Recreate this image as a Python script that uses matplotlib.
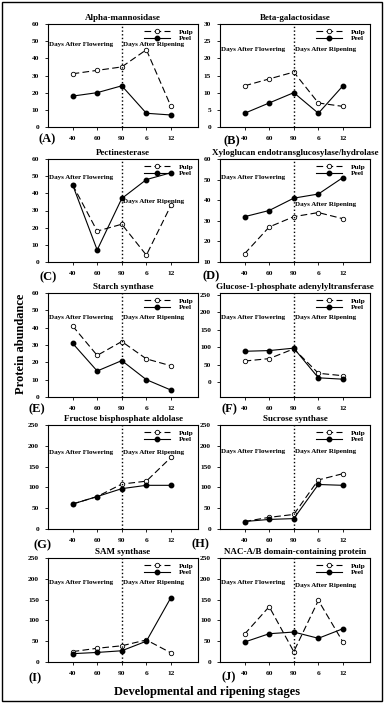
import matplotlib
matplotlib.use("Agg")
from matplotlib import pyplot as plt
from matplotlib.patches import Rectangle

plt.rcParams['font.family'] = ['Liberation Serif', 'DejaVu Serif']
plt.rcParams['font.weight'] = 'bold'

stages = ["40", "60", "90", "6", "12"]

titles = ["Alpha-mannosidase", "Beta-galactosidase", "Pectinesterase",
          "Xyloglucan endotransglucosylase/hydrolase", "Starch synthase",
          "Glucose-1-phosphate adenylyltransferase", "Fructose bisphosphate aldolase",
          "Sucrose synthase", "SAM synthase", "NAC-A/B domain-containing protein"]
letters = ["(A)", "(B)", "(C)", "(D)", "(E)", "(F)", "(G)", "(H)", "(I)", "(J)"]

pulp = [
    [31, 33, 35, 45, 12],
    [12, 14, 16, 7, 6],
    [45, 18, 22, 4, 33],
    [14, 27, 32, 34, 31],
    [41, 24, 32, 22, 18],
    [60, 67, 95, 25, 18],
    [60, 78, 108, 115, 172],
    [18, 28, 35, 118, 133],
    [25, 33, 39, 53, 22],
    [67, 133, 25, 148, 48],
]
peel = [
    [18, 20, 24, 8, 7],
    [4, 7, 10, 4, 12],
    [45, 7, 37, 48, 52],
    [32, 35, 41, 43, 51],
    [31, 15, 21, 10, 4],
    [88, 90, 97, 12, 8],
    [60, 78, 97, 105, 105],
    [18, 23, 25, 107, 105],
    [20, 23, 27, 50, 155],
    [48, 68, 72, 57, 80],
]
ylims = [(0, 60), (0, 30), (0, 60), (10, 60), (0, 60),
         (-43, 255), (0, 250), (0, 250), (0, 250), (0, 250)]
ysteps = [10, 5, 10, 10, 10, 50, 50, 50, 50, 50]

# text heights (axes fraction) for the two period labels
flower_y = [0.78, 0.73, 0.80, 0.80, 0.74, 0.74, 0.71, 0.72, 0.74, 0.74]
ripen_y = [0.78, 0.73, 0.56, 0.53, 0.74, 0.74, 0.71, 0.72, 0.74, 0.71]
letter_x = [47, 232, 48, 211, 37, 229, 42, 200, 35, 229]
letter_y = [139, 141, 277, 276, 409, 409, 545, 544, 678, 677]

W, H = 384, 703
fig = plt.figure(figsize=(W / 100, H / 100), dpi=100)

rows = [(24, 127), (159, 262), (293, 397), (425, 529), (558, 662)]
cols = [(48, 198), (220, 370)]

x = list(range(1, 6))
for i in range(10):
    top, bot = rows[i // 2]
    l, r = cols[i % 2]
    ax = fig.add_axes([l / W, 1 - bot / H, (r - l) / W, (bot - top) / H])
    ax.plot(x, pulp[i], color='black', linestyle=(0, (6, 3)), lw=0.8, marker='o',
            markersize=3.2, markerfacecolor='white', markeredgewidth=0.6, label='Pulp')
    ax.plot(x, peel[i], color='black', linestyle='-', lw=0.8, marker='o',
            markersize=3.2, markerfacecolor='black', label='Peel')
    ax.axvline(3, color='black', linestyle=':', lw=1)
    ax.set_xlim(0, 6.1)
    y0, y1 = ylims[i]
    ax.set_ylim(y0, y1)
    start = 0 if y0 < 0 else y0
    ax.set_yticks(range(start, y1 + 1 if y1 % ysteps[i] == 0 else y1, ysteps[i]))
    ax.set_xticks(x)
    ax.set_xticklabels(stages)
    ax.tick_params(labelsize=5.3, length=2, width=0.6, pad=4.5)
    for s in ax.spines.values():
        s.set_linewidth(0.8)
    ax.set_title(titles[i], fontsize=6.5, fontweight='bold', pad=3)
    ax.text(0.005, flower_y[i], "Days After Flowering", transform=ax.transAxes,
            fontsize=5, fontweight='bold', ha='left', va='bottom')
    ax.text(3.05, ripen_y[i], "Days After Ripening",
            transform=ax.get_xaxis_transform(), fontsize=5, fontweight='bold',
            ha='left', va='bottom')
    ax.legend(loc='upper right', fontsize=5.3, frameon=False, handlelength=3.5,
              handletextpad=1.2, labelspacing=0.05, borderaxespad=0.25)
    fig.text(letter_x[i] / W, 1 - letter_y[i] / H, letters[i], fontsize=9,
             fontweight='bold', ha='center', va='center')

fig.text(21 / W, 1 - 344 / H, "Protein abundance", rotation=90, fontsize=9,
         fontweight='bold', ha='center', va='center')
fig.text(207 / W, 1 - 692 / H, "Developmental and ripening stages", fontsize=9,
         fontweight='bold', ha='center', va='center')

fig.patches.append(Rectangle((2 / W, 2 / H), 1 - 4 / W, 1 - 4 / H, fill=False,
                             edgecolor='black', lw=1, transform=fig.transFigure,
                             figure=fig))

fig.savefig("out.png", dpi=100)
